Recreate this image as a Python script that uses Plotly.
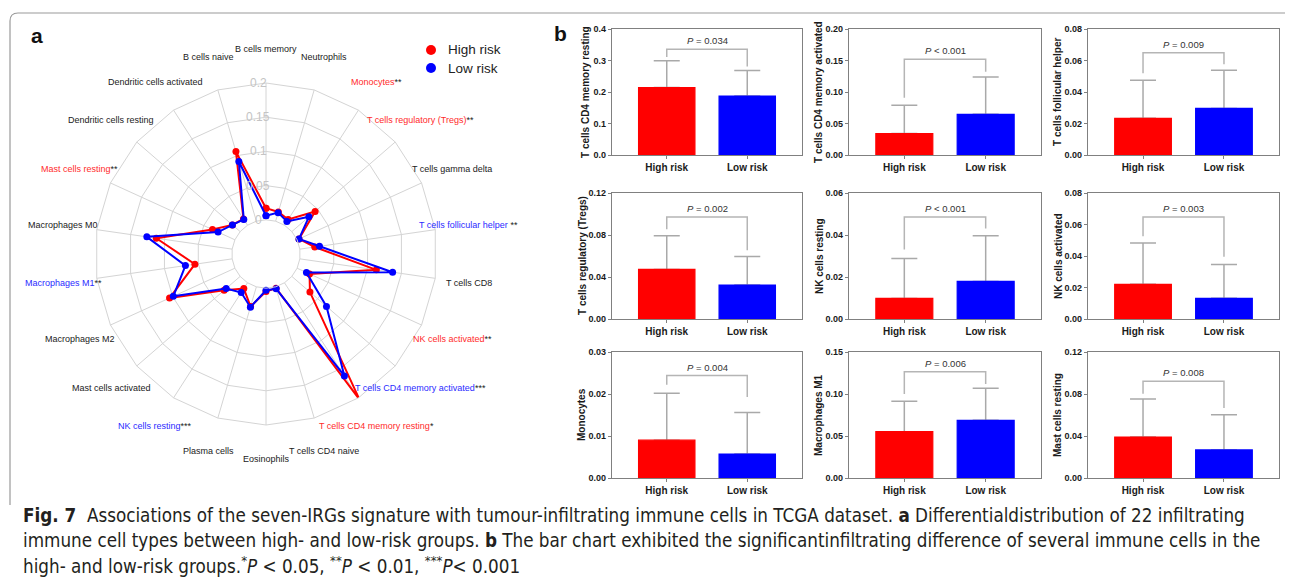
import math
import plotly.graph_objects as go

W, H = 1292, 588
FONT = "Liberation Sans, Arial, Helvetica, sans-serif"
CAP_FONT = "Liberation Sans Narrow, DejaVu Sans Condensed, Roboto Condensed, Arial Narrow, sans-serif"

# ---------------- data: panel a (radar) ----------------
radar_categories = [
    "B cells memory", "Neutrophils", "Monocytes", "T cells regulatory (Tregs)",
    "T cells gamma delta", "T cells follicular helper", "T cells CD8",
    "NK cells activated", "T cells CD4 memory activated", "T cells CD4 memory resting",
    "T cells CD4 naive", "Eosinophils", "Plasma cells", "NK cells resting",
    "Mast cells activated", "Macrophages M2", "Macrophages M1", "Macrophages M0",
    "Mast cells resting", "Dendritic cells resting", "Dendritic cells activated",
    "B cells naive",
]
radar_high = [0.017, 0.014, 0.010, 0.045, 0.003, 0.022, 0.113, 0.020, 0.035, 0.203,
              0.002, 0.005, 0.030, 0.010, 0.031, 0.105, 0.055, 0.112, 0.036, 0.015,
              0.011, 0.106]
radar_low = [0.006, 0.013, 0.0065, 0.033, 0.003, 0.029, 0.137, 0.015, 0.067, 0.162,
             0.003, 0.003, 0.031, 0.017, 0.027, 0.099, 0.069, 0.126, 0.027, 0.015,
             0.010, 0.091]
radar_label_color = ["k", "k", "r", "r", "k", "b", "k", "r", "b", "r", "k", "k", "k",
                     "b", "k", "k", "b", "k", "r", "k", "k", "k"]
radar_label_stars = ["", "", "**", "**", "", " **", "", "**", "***", "*", "", "", "",
                     "***", "", "", "**", "", "**", "", "", ""]
radar_ticks = [0, 0.05, 0.1, 0.15, 0.2]
radar_tick_labels = ["0", "0.05", "0.1", "0.15", "0.2"]
groups = ["High risk", "Low risk"]

# ---------------- data: panel b (bars) ----------------
bar_titles = ["T cells CD4 memory resting", "T cells CD4 memory activated",
              "T cells follicular helper", "T cells regulatory (Tregs)",
              "NK cells resting", "NK cells activated", "Monocytes",
              "Macrophages M1", "Mast cells resting"]
bar_high = [0.214, 0.034, 0.0233, 0.0472, 0.0098, 0.022, 0.0090, 0.0552, 0.039]
bar_low = [0.187, 0.0646, 0.0296, 0.0323, 0.0179, 0.0131, 0.0057, 0.0687, 0.0267]
err_high = [0.085, 0.0448, 0.0241, 0.032, 0.019, 0.0263, 0.0112, 0.0361, 0.0362]
err_low = [0.081, 0.0592, 0.0242, 0.0272, 0.0218, 0.0215, 0.0099, 0.038, 0.0336]
p_texts = ["= 0.034", "&lt; 0.001", "= 0.009", "= 0.002", "&lt; 0.001", "= 0.003",
           "= 0.004", "= 0.006", "= 0.008"]
bracket_top = [0.336, 0.152, 0.065, 0.0972, 0.0486, 0.0648, 0.0244, 0.1266, 0.0921]
bracket_left_end = [0.311, 0.091, 0.0519, 0.0855, 0.0331, 0.0526, 0.0222, 0.100, 0.0803]
bracket_right_end = [0.281, 0.132, 0.0576, 0.0655, 0.0431, 0.0395, 0.0193, 0.1119, 0.0667]
y_tick_labels = [
    ["0.0", "0.1", "0.2", "0.3", "0.4"],
    ["0.00", "0.05", "0.10", "0.15", "0.20"],
    ["0.00", "0.02", "0.04", "0.06", "0.08"],
    ["0.00", "0.04", "0.08", "0.12"],
    ["0.00", "0.02", "0.04", "0.06"],
    ["0.00", "0.02", "0.04", "0.06", "0.08"],
    ["0.00", "0.01", "0.02", "0.03"],
    ["0.00", "0.05", "0.10", "0.15"],
    ["0.00", "0.04", "0.08", "0.12"],
]

caption_lines = [
    "<b>Fig. 7</b>  Associations of the seven-IRGs signature with tumour-infiltrating immune cells in TCGA dataset. <b>a</b> Differentialdistribution of 22 infiltrating",
    "immune cell types between high- and low-risk groups. <b>b</b> The bar chart exhibited the significantinfiltrating difference of several immune cells in the",
    "high- and low-risk groups.<sup>*</sup><i>P</i> &lt; 0.05, <sup>**</sup><i>P</i> &lt; 0.01, <sup>***</sup><i>P</i>&lt; 0.001",
]

# ---------------- styling / geometry ----------------
RED, BLUE = "#ff0000", "#0000ff"
LBL_COL = {"k": "#222222", "r": "#ff2b2b", "b": "#2b2bff"}
GRID = "#d4d4d4"
FRAME = "#808080"
ERR = "#a9a9a9"


def pxx(x):
    return x / W


def pxy(y):
    return 1 - y / H


CX, CY, R, HOLE = 266, 254, 171, 0.2
LABEL_R = 205

fig = go.Figure()

closed_theta = radar_categories + radar_categories[:1]
for vals, col, name in [(radar_high, RED, groups[0]), (radar_low, BLUE, groups[1])]:
    fig.add_trace(go.Scatterpolar(
        r=vals + vals[:1], theta=closed_theta, mode="lines+markers", name=name,
        line=dict(color=col, width=2), marker=dict(color=col, size=7),
        showlegend=False, subplot="polar"))

annotations = []
shapes = []

n = len(radar_categories)
for k, cat in enumerate(radar_categories):
    ang = math.radians(k * 360 / n)
    lx = CX + LABEL_R * math.sin(ang)
    ly = CY - LABEL_R * math.cos(ang)
    txt = cat
    if radar_label_stars[k]:
        txt = cat + "<span style='color:#222222'>" + radar_label_stars[k] + "</span>"
    annotations.append(dict(x=pxx(lx), y=pxy(ly), xref="paper", yref="paper",
                            text=txt, showarrow=False, xanchor="center", yanchor="middle",
                            font=dict(family=FONT, size=9, color=LBL_COL[radar_label_color[k]])))

for v, t in zip(radar_ticks, radar_tick_labels):
    rr = R * HOLE + (R - R * HOLE) * v / radar_ticks[-1]
    annotations.append(dict(x=pxx(258), y=pxy(CY - rr), xref="paper", yref="paper",
                            text=t, showarrow=False, xanchor="center", yanchor="middle",
                            font=dict(family=FONT, size=12, color="#c4c4c4")))

for i, (g, col) in enumerate(zip(groups, [RED, BLUE])):
    yy = 50 + 18 * i
    shapes.append(dict(type="circle", xref="paper", yref="paper",
                       x0=pxx(431 - 5), x1=pxx(431 + 5), y0=pxy(yy + 5), y1=pxy(yy - 5),
                       fillcolor=col, line=dict(color=col, width=0)))
    annotations.append(dict(x=pxx(446), y=pxy(yy), xref="paper", yref="paper", text=g,
                            showarrow=False, xanchor="left", yanchor="middle",
                            font=dict(family=FONT, size=13.5, color="#222222")))

annotations.append(dict(x=pxx(37), y=pxy(36), xref="paper", yref="paper", text="<b>a</b>",
                        showarrow=False, xanchor="center", yanchor="middle",
                        font=dict(family=FONT, size=21, color="#111111")))
annotations.append(dict(x=pxx(560), y=pxy(33), xref="paper", yref="paper", text="<b>b</b>",
                        showarrow=False, xanchor="center", yanchor="middle",
                        font=dict(family=FONT, size=21, color="#111111")))

layout = dict(
    width=W, height=H, margin=dict(l=0, r=0, t=0, b=0, pad=0),
    paper_bgcolor="white", plot_bgcolor="white", showlegend=False,
    barmode="overlay",
    polar=dict(
        domain=dict(x=[pxx(CX - R), pxx(CX + R)], y=[pxy(CY + R), pxy(CY - R)]),
        hole=HOLE, gridshape="linear", bgcolor="white",
        radialaxis=dict(range=[0, radar_ticks[-1]], tickvals=radar_ticks,
                        showticklabels=False, ticks="", showline=False,
                        gridcolor=GRID, gridwidth=1),
        angularaxis=dict(direction="clockwise", rotation=90, type="category",
                         categoryarray=radar_categories, showticklabels=False,
                         ticks="", gridcolor=GRID, linecolor=GRID, showline=True),
    ),
)

cols_px = [(612, 802), (849, 1041), (1088, 1279)]
rows_px = [(29, 155), (193, 319), (352, 478)]

for i in range(9):
    r_i, c_i = divmod(i, 3)
    sfx = "" if i == 0 else str(i + 1)
    xa, ya = "x" + sfx, "y" + sfx
    x0, x1 = cols_px[c_i]
    y0, y1 = rows_px[r_i]
    tvals = [float(t) for t in y_tick_labels[i]]
    layout["xaxis" + sfx] = dict(
        domain=[pxx(x0), pxx(x1)], anchor=ya, type="category",
        categoryarray=groups, range=[-0.68, 1.68],
        showline=True, mirror=True, linecolor=FRAME, linewidth=1.3,
        ticks="outside", ticklen=3, tickwidth=1.3, tickcolor=FRAME,
        tickfont=dict(family=FONT, size=10, color="#1a1a1a", weight="bold"),
        showgrid=False, zeroline=False, fixedrange=True, automargin=False)
    layout["yaxis" + sfx] = dict(
        domain=[pxy(y1), pxy(y0)], anchor=xa, range=[0, tvals[-1]],
        tickvals=tvals, ticktext=y_tick_labels[i],
        showline=True, mirror=True, linecolor=FRAME, linewidth=1.3,
        ticks="outside", ticklen=3, tickwidth=1.3, tickcolor=FRAME,
        tickfont=dict(family=FONT, size=9, color="#1a1a1a", weight="bold"),
        showgrid=False, zeroline=False, fixedrange=True, automargin=False)

    # error bars on a transparent bar (drawn first); the coloured bars drawn after
    # cover the lower cap and the part of the whisker inside the bar
    fig.add_trace(go.Bar(
        x=groups, y=[bar_high[i], bar_low[i]], width=0.7,
        marker=dict(color="rgba(0,0,0,0)", line=dict(width=0)),
        error_y=dict(type="data", symmetric=False, array=[err_high[i], err_low[i]],
                     arrayminus=[0, 0], color=ERR, thickness=1.5, width=13),
        xaxis=xa, yaxis=ya, showlegend=False, hoverinfo="skip"))
    fig.add_trace(go.Bar(
        x=groups, y=[bar_high[i], bar_low[i]], width=0.7,
        marker=dict(color=[RED, BLUE], line=dict(width=1.2, color=[RED, BLUE])),
        xaxis=xa, yaxis=ya, showlegend=False))
    fig.add_trace(go.Scatter(
        x=[groups[0], groups[0], groups[1], groups[1]],
        y=[bracket_left_end[i], bracket_top[i], bracket_top[i], bracket_right_end[i]],
        mode="lines", line=dict(color="#b5b5b5", width=1.5),
        xaxis=xa, yaxis=ya, showlegend=False, hoverinfo="skip"))
    annotations.append(dict(x=0.5, y=bracket_top[i], xref=xa, yref=ya,
                            text="<i>P</i> " + p_texts[i], showarrow=False,
                            xanchor="center", yanchor="bottom", yshift=1,
                            font=dict(family=FONT, size=9.5, color="#333333")))
    # y-axis title
    lab_len = max(len(t) for t in y_tick_labels[i])
    title_x = x0 - (14 + 4 * lab_len)
    annotations.append(dict(x=pxx(title_x), y=pxy((y0 + y1) / 2), xref="paper", yref="paper",
                            text="<b>" + bar_titles[i] + "</b>", showarrow=False,
                            textangle=-90, xanchor="center", yanchor="middle",
                            font=dict(family=FONT, size=10, color="#1a1a1a")))

for j, line in enumerate(caption_lines):
    annotations.append(dict(x=pxx(21), y=pxy(515 + 25 * j), xref="paper", yref="paper",
                            text=line, showarrow=False, xanchor="left", yanchor="middle",
                            font=dict(family=CAP_FONT, size=18.7, color="#231f20")))

shapes.append(dict(type="path", xref="paper", yref="paper",
                   path=(f"M {pxx(10)},{pxy(505)} L {pxx(10)},{pxy(21)} "
                         f"Q {pxx(10)},{pxy(13)} {pxx(18)},{pxy(13)} L {pxx(1285)},{pxy(13)}"),
                   line=dict(color="#9a9a9a", width=1.2)))

layout["annotations"] = annotations
layout["shapes"] = shapes
fig.update_layout(**layout)
fig.write_html("out.html", config={"displayModeBar": False},
               post_script="document.body.style.margin='0px';document.body.style.padding='0px';document.body.style.overflow='hidden';")
